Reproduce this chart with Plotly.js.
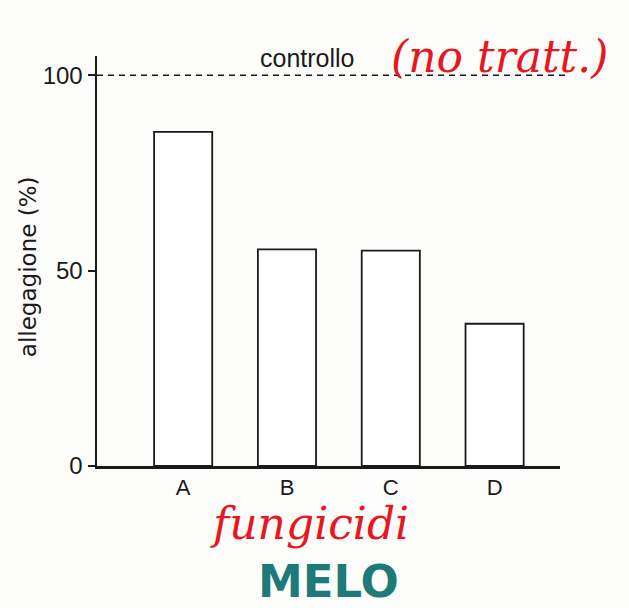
<!DOCTYPE html>
<html>
<head>
<meta charset="utf-8">
<script src="https://cdn.plot.ly/plotly-3.0.1.min.js"></script>
<style>
html,body{margin:0;padding:0;background:#fcfcfa;}
#chart{width:629px;height:608px;}
</style>
</head>
<body>
<div id="chart"></div>
<script>
// Data
var categories = ["A", "B", "C", "D"];
var allegagione = [85.5, 55.4, 55.1, 36.4];
var controlValue = 100;
var yTicks = [0, 50, 100];
var yTickLabels = ["0", "50", "100"];
var yTitle = "allegagione (%)";

var barTrace = {
  type: "bar",
  x: categories,
  y: allegagione,
  width: 0.56,
  marker: {color: "#ffffff", line: {color: "#1a1a1a", width: 1.8}},
  hoverinfo: "x+y"
};

var layout = {
  width: 629,
  height: 608,
  margin: {l: 97, r: 69, t: 56, b: 142},
  paper_bgcolor: "#fcfcfa",
  plot_bgcolor: "#fcfcfa",
  showlegend: false,
  font: {family: "Liberation Sans, Arial, sans-serif", color: "#1a1a1a"},
  xaxis: {
    type: "category",
    range: [-0.83, 3.63],
    showline: true,
    linecolor: "#1a1a1a",
    linewidth: 2.5,
    ticks: "",
    showgrid: false,
    zeroline: false,
    tickfont: {size: 22, color: "#1a1a1a"},
    fixedrange: true
  },
  yaxis: {
    range: [0, 104.9],
    tickvals: yTicks,
    ticktext: yTickLabels,
    ticks: "outside",
    ticklen: 7,
    tickwidth: 2,
    tickcolor: "#1a1a1a",
    showline: true,
    linecolor: "#1a1a1a",
    linewidth: 2.5,
    showgrid: false,
    zeroline: false,
    tickfont: {size: 24, color: "#1a1a1a"},
    fixedrange: true
  },
  shapes: [{
    type: "line",
    xref: "paper", yref: "y",
    x0: 0, x1: 1.015,
    y0: controlValue, y1: controlValue,
    line: {color: "#1a1a1a", width: 1.5, dash: "6px,5px"}
  }],
  annotations: [
    {
      text: yTitle,
      xref: "paper", yref: "paper",
      x: 0, y: 0.485,
      xanchor: "center", yanchor: "middle",
      xshift: -69,
      textangle: -90,
      showarrow: false,
      font: {family: "DejaVu Sans, sans-serif", size: 23, color: "#1a1a1a"}
    },
    {
      text: "controllo",
      xref: "x", yref: "y",
      x: 1.2, y: controlValue,
      yanchor: "bottom", xanchor: "center",
      yshift: 1,
      showarrow: false,
      font: {size: 25, color: "#1a1a1a"}
    },
    {
      text: "(no tratt.)",
      xref: "paper", yref: "paper",
      x: 0.87, y: 1.0,
      xanchor: "center", yanchor: "middle",
      showarrow: false,
      font: {family: "DejaVu Serif, serif", size: 44, color: "#e8161e", style: "italic"}
    },
    {
      text: "fungicidi",
      xref: "paper", yref: "paper",
      x: 0.46, y: -0.14,
      xanchor: "center", yanchor: "middle",
      showarrow: false,
      font: {family: "DejaVu Serif, serif", size: 44, color: "#e8161e", style: "italic"}
    },
    {
      text: "MELO",
      xref: "paper", yref: "paper",
      x: 0.5, y: -0.282,
      xanchor: "center", yanchor: "middle",
      showarrow: false,
      font: {family: "DejaVu Sans, sans-serif", size: 45, color: "#1d7a78", weight: "bold"}
    }
  ]
};

Plotly.newPlot("chart", [barTrace], layout, {displayModeBar: false, staticPlot: true});
</script>
</body>
</html>
